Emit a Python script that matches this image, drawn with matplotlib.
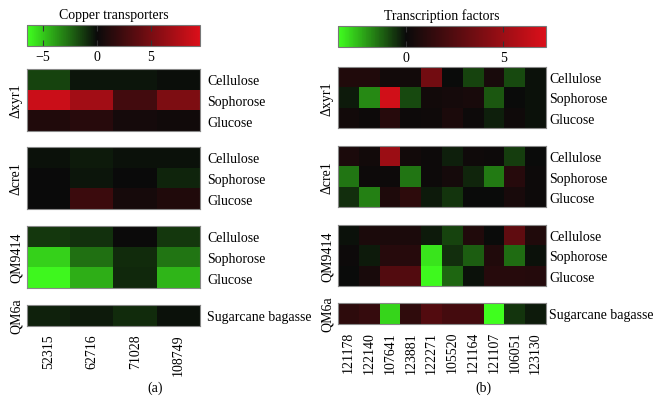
import numpy as np
import matplotlib
matplotlib.use('Agg')
import matplotlib.pyplot as plt
from matplotlib.colors import LinearSegmentedColormap, Normalize
from matplotlib.cm import ScalarMappable

plt.rcParams['font.family'] = ['Liberation Serif', 'DejaVu Serif']
plt.rcParams['font.size'] = 10

# Data
conditions = ['Cellulose', 'Sophorose', 'Glucose']
strains = ['Δxyr1', 'Δcre1', 'QM9414', 'QM6a']
bagasse = ['Sugarcane bagasse']

cu_genes = ['52315', '62716', '71028', '108749']
cu_xyr1 = [[-1.5, -0.3, -0.3, -0.1],
           [8.8, 7.0, 2.6, 5.3],
           [1.0, 1.3, 0.5, 0.3]]
cu_cre1 = [[-0.2, -0.4, -0.2, -0.2],
           [0.0, -0.3, 0.0, -0.7],
           [0.0, 2.3, 0.6, 1.0]]
cu_qm9414 = [[-1.2, -1.0, 0.1, -1.2],
             [-5.3, -2.7, -0.9, -2.8],
             [-6.3, -4.3, -0.8, -4.5]]
cu_qm6a = [[-0.6, -0.4, -0.9, -0.2]]
cu_range = (-6.5, 9.6)
cu_ticks = [-5, 0, 5]

tf_genes = ['121178', '122140', '107641', '123881', '122271',
            '105520', '121164', '121107', '106051', '123130']
tf_xyr1 = [[0.8, 0.8, 0.3, 0.3, 3.6, 0.0, -0.8, 0.5, -0.9, -0.1],
           [-0.2, -1.8, 6.8, -0.9, 0.3, 0.4, 0.5, -1.1, 0.0, -0.1],
           [0.3, 0.1, 1.0, 0.1, 0.2, 0.6, 0.1, -0.3, 0.2, -0.1]]
tf_cre1 = [[0.6, 0.3, 5.0, 0.3, 0.1, -0.3, 0.2, 0.1, -0.7, 0.0],
           [-1.5, 0.1, 0.1, -1.5, 0.1, 0.4, -0.4, -1.6, 1.0, 0.1],
           [-0.5, -1.7, 0.7, 1.2, -0.2, -0.6, 0.0, 0.0, 0.5, 0.1]]
tf_qm9414 = [[-0.1, 0.6, 0.6, 0.6, -0.2, -0.8, 0.8, 0.0, 2.9, 0.8],
             [0.1, -0.2, 1.0, 1.0, -3.1, -0.5, -1.2, 0.8, -1.4, -0.1],
             [0.0, 0.5, 2.5, 2.5, -3.4, -1.3, -0.1, 1.0, 1.0, 0.9]]
tf_qm6a = [[1.2, 1.5, -2.9, 1.3, 2.5, 2.0, 2.0, -3.5, -0.6, -0.2]]
tf_range = (-3.5, 7.2)
tf_ticks = [0, 5]

GREEN = (0.25, 1.0, 0.12)
BLACK = (0.04, 0.04, 0.04)
RED = (0.86, 0.06, 0.1)

W, H = 656, 414
fig = plt.figure(figsize=(W / 100, H / 100), dpi=100)


def box(x0, x1, y0, y1):
    # pixel box (y from top) -> figure fraction
    return [x0 / W, 1 - y1 / H, (x1 - x0) / W, (y1 - y0) / H]


def panel(x0, x1, cb_y, rows_y, title, genes, blocks, vrange, ticks, letter,
          lx, rpad):
    vmin, vmax = vrange
    frac = (0 - vmin) / (vmax - vmin)
    cmap = LinearSegmentedColormap.from_list(
        'gkr', [(0, GREEN), (frac, BLACK), (1, RED)])
    norm = Normalize(vmin=vmin, vmax=vmax)

    cax = fig.add_axes(box(x0, x1, *cb_y))
    cb = fig.colorbar(ScalarMappable(norm=norm, cmap=cmap), cax=cax,
                      orientation='horizontal', ticks=ticks)
    cb.ax.tick_params(direction='in', length=4, width=0.8, color='#333333',
                      top=True, pad=3, labelsize=10)
    cb.ax.set_xticklabels(['−5' if t == -5 else str(t) for t in ticks])
    cb.outline.set_edgecolor('#777777')
    cb.outline.set_linewidth(0.8)
    cax.set_title(title, fontsize=10, pad=5)

    for i, (data, strain, labels) in enumerate(blocks):
        ax = fig.add_axes(box(x0, x1, *rows_y[i]))
        ax.imshow(np.array(data), cmap=cmap, norm=norm, aspect='auto',
                  interpolation='nearest')
        ax.yaxis.tick_right()
        ax.set_yticks(range(len(labels)))
        ax.set_yticklabels(labels)
        ax.tick_params(axis='y', length=0, pad=rpad)
        ax.set_ylabel(strain, labelpad=3)
        if i == len(blocks) - 1:
            ax.set_xticks(range(len(genes)))
            ax.set_xticklabels(genes, rotation=90)
            ax.tick_params(axis='x', length=0, pad=5)
        else:
            ax.set_xticks([])
        for s in ax.spines.values():
            s.set_edgecolor('#888888')
            s.set_linewidth(0.8)

    fig.text(lx / W, 1 - 388 / H, letter, ha='center', va='center', fontsize=10)


panel(27, 200, (26, 47), [(70, 132), (148, 210), (227, 289), (306, 327)],
      'Copper transporters', cu_genes,
      [(cu_xyr1, strains[0], conditions), (cu_cre1, strains[1], conditions),
       (cu_qm9414, strains[2], conditions), (cu_qm6a, strains[3], bagasse)],
      cu_range, cu_ticks, '(a)', 155, 5)

panel(338, 546, (27, 48), [(68, 129), (147, 208), (226, 287), (304, 325)],
      'Transcription factors', tf_genes,
      [(tf_xyr1, strains[0], conditions), (tf_cre1, strains[1], conditions),
       (tf_qm9414, strains[2], conditions), (tf_qm6a, strains[3], bagasse)],
      tf_range, tf_ticks, '(b)', 483, 2.5)

fig.savefig('out.png', dpi=100)
